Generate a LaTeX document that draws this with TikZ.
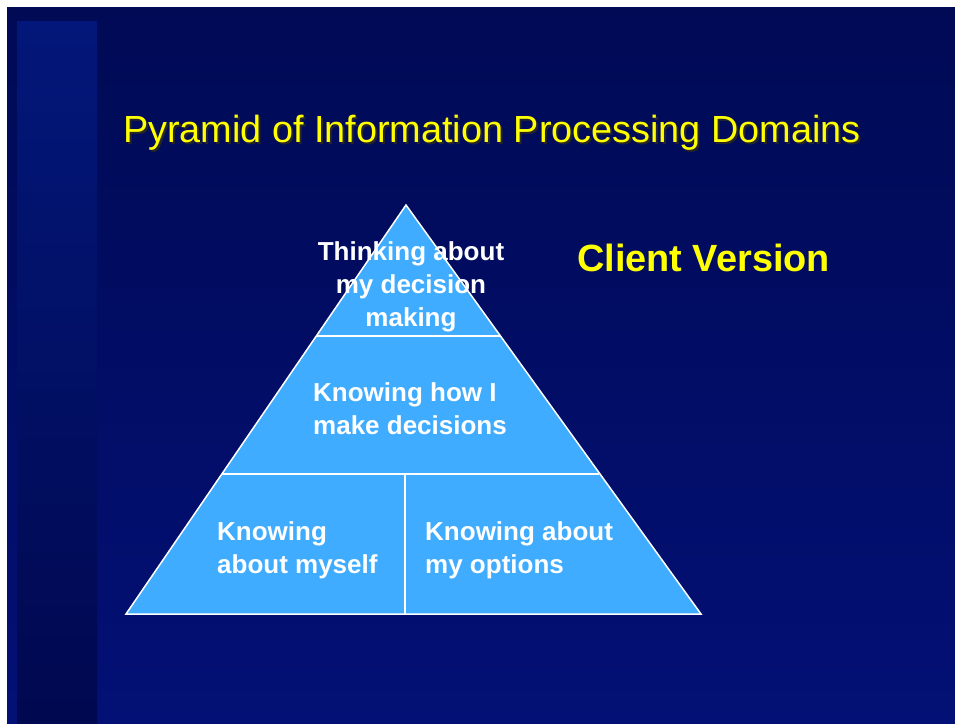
\documentclass[tikz,border=0pt]{standalone}
\usepackage{fontspec}
\setmainfont{Liberation Sans}
\usepackage{tikz}
\usetikzlibrary{positioning}
\usepackage{xcolor}

\definecolor{navytop}{HTML}{000A55}
\definecolor{navybot}{HTML}{031075}
\definecolor{bartop}{HTML}{03177A}
\definecolor{barbot}{HTML}{00084F}
\definecolor{pyrblue}{HTML}{40ACFF}
\definecolor{slideyel}{HTML}{FFFF00}

\tikzset{
  heading/.style={font={\fontsize{37.8pt}{44pt}\selectfont}, inner sep=0pt, anchor=base west},
  tier/.style={font={\fontsize{26pt}{33pt}\selectfont\bfseries}, text=white, inner sep=0pt},
  split/.style={draw=white, line width=2pt},
}

\begin{document}
\begin{tikzpicture}[x=1pt, y=-1pt]
  % Slide background
  \useasboundingbox[fill=white] (0,0) rectangle (955,723);
  \shade[top color=navytop, bottom color=navybot] (7,7) rectangle (955,723);
  \shade[top color=bartop, bottom color=barbot] (17,21) rectangle (97,723);

  % Define nodes
  \node[heading, text=black!85] (titleshadow) at (125,144) {Pyramid of Information Processing Domains};
  \node[heading, text=slideyel] (title) at (123,142) {Pyramid of Information Processing Domains};
  \node[font={\fontsize{37.9pt}{42pt}\selectfont\bfseries}, text=slideyel, inner sep=0pt, anchor=base west]
    (version) at (577,271) {Client Version};

  \coordinate (apex) at (406,205);
  \coordinate (baseL) at (126,614);
  \coordinate (baseR) at (701,614);
  \coordinate (midL) at (222,474);
  \coordinate (midR) at (599,474);
  \coordinate (topL) at (316,336);
  \coordinate (topR) at (501,336);
  \coordinate (midC) at (405,474);
  \coordinate (baseC) at (405,614);

  % Pyramid body
  \draw[fill=pyrblue, draw=white, line width=1.5pt, line join=miter] (apex) -- (baseR) -- (baseL) -- cycle;
  \draw[split] (topL) -- (topR);
  \draw[split] (midL) -- (midR);
  \draw[split] (midC) -- (baseC);

  % Tier labels
  \node[tier, align=center] (thinking) at (411,287) {Thinking about\\my decision\\making};
  \node[tier, align=left, anchor=west] (howi) at (313,409) {Knowing how I\\make decisions};
  \node[tier, align=left, anchor=west] (myself) at (217,550) {Knowing\\about myself};
  \node[tier, align=left, anchor=west] (options) at (425,550) {Knowing about\\my options};
\end{tikzpicture}
\end{document}
